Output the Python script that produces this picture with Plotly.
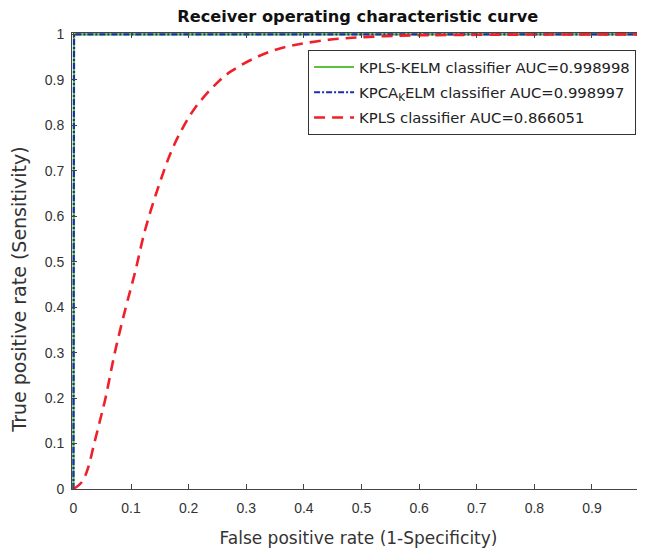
import plotly.graph_objects as go

# ---- data ----
kelm_fpr = [0.0, 0.0, 0.001, 1.0]
kelm_tpr = [0.0, 0.998, 1.0, 1.0]

kpca_fpr = [0.0, 0.0, 0.001, 1.0]
kpca_tpr = [0.0, 0.998, 1.0, 1.0]

kpls_fpr = [0.0, 0.015, 0.025, 0.036, 0.046, 0.056, 0.072, 0.091, 0.107, 0.124,
            0.147, 0.170, 0.190, 0.211, 0.242, 0.274, 0.343, 0.424, 0.539, 0.70, 1.0]
kpls_tpr = [0.0, 0.016, 0.045, 0.100, 0.150, 0.202, 0.301, 0.400, 0.477, 0.568,
            0.663, 0.743, 0.795, 0.838, 0.884, 0.919, 0.963, 0.985, 0.996, 0.999, 1.0]

names = ["KPLS-KELM classifier AUC=0.998998",
         "KPCA<sub>K</sub>ELM classifier AUC=0.998997",
         "KPLS classifier AUC=0.866051"]

x_ticks = [0, 0.1, 0.2, 0.3, 0.4, 0.5, 0.6, 0.7, 0.8, 0.9, 1]
y_ticks = [0, 0.1, 0.2, 0.3, 0.4, 0.5, 0.6, 0.7, 0.8, 0.9, 1]

title_text = "Receiver operating characteristic curve"
x_title = "False positive rate (1-Specificity)"
y_title = "True positive rate (Sensitivity)"

FONT = "Liberation Sans, Arial, sans-serif"
WIDE = "DejaVu Sans, Verdana, sans-serif"

fig = go.Figure()
fig.add_trace(go.Scatter(x=kelm_fpr, y=kelm_tpr, mode="lines", name=names[0],
                         legendgroup="a",
                         line=dict(color="#5cc23c", width=2.2)))
fig.add_trace(go.Scatter(x=kpca_fpr, y=kpca_tpr, mode="lines", name=names[1],
                         legendgroup="b",
                         line=dict(color="#1a2fb0", width=2.2, dash="6px,2px,2px,2px")))
fig.add_trace(go.Scatter(x=kpls_fpr, y=kpls_tpr, mode="lines", name=names[2],
                         legendgroup="c", line_shape="spline",
                         line=dict(color="#f0202a", width=2.6, dash="11px,7px")))

axis_common = dict(
    showgrid=False, zeroline=False, showline=True, linecolor="#444", linewidth=1,
    mirror="ticks", ticks="inside", ticklen=5, tickcolor="#444",
    tickfont=dict(family=FONT, size=14, color="#333"),
)

fig.update_layout(
    width=637, height=541,
    margin=dict(l=63.5, r=0, t=25, b=60, autoexpand=False),
    paper_bgcolor="white", plot_bgcolor="white",
    font=dict(family=FONT, color="#222"),
    title=dict(text="<b>" + title_text + "</b>",
               x=0.549, xanchor="center", y=0.985, yanchor="middle",
               font=dict(family=WIDE, size=16.2, color="#111")),
    xaxis=dict(range=[-0.0025, 0.992], tickvals=x_ticks,
               ticktext=[str(v) for v in x_ticks], ticklabelstandoff=6,
               title=dict(text=x_title,
                          font=dict(family=WIDE, size=17, color="#333"), standoff=17),
               **axis_common),
    yaxis=dict(range=[0, 1.003], tickvals=y_ticks,
               ticktext=[str(v) for v in y_ticks], ticklabelstandoff=4,
               **axis_common),
    legend=dict(x=0.412, y=0.963, xanchor="left", yanchor="top",
                bgcolor="white", bordercolor="#333", borderwidth=1,
                font=dict(family=WIDE, size=14.8, color="#222"),
                itemwidth=40, tracegroupgap=3),
    showlegend=True,
    annotations=[dict(text=y_title, textangle=-90, xref="paper", yref="paper",
                      x=0, y=0.436, xshift=-52.5, xanchor="center", yanchor="middle",
                      showarrow=False,
                      font=dict(family=WIDE, size=19, color="#333"))],
)

fig.write_html("out.html")
